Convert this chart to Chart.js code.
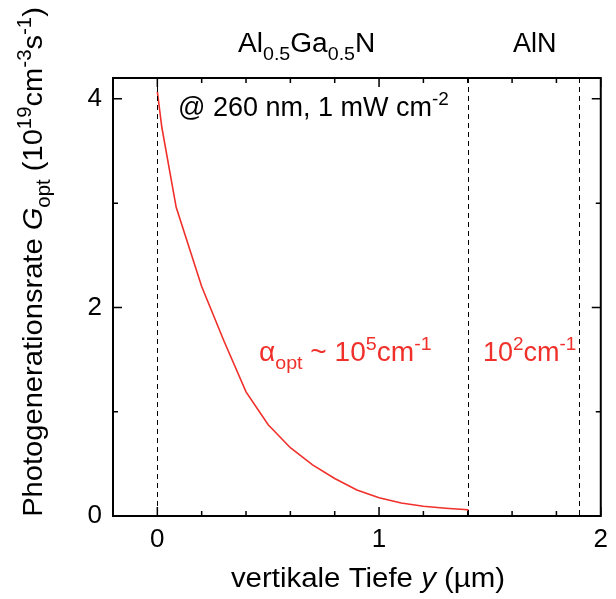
<!DOCTYPE html>
<html>
<head>
<meta charset="utf-8">
<script src="https://cdn.jsdelivr.net/npm/chart.js@4.4.1/dist/chart.umd.min.js"></script>
<style>
  html, body { margin: 0; padding: 0; background: #fff; }
  #wrap { width: 616px; height: 599px; }
</style>
</head>
<body>
<div id="wrap"><canvas id="c" width="616" height="599"></canvas></div>
<script>
// depth (µm) and generation rate (1e19 cm^-3 s^-1)
const depth = [0, 0.02, 0.085, 0.2, 0.3, 0.4, 0.5, 0.6, 0.7, 0.8, 0.9, 1.0, 1.1, 1.2, 1.3, 1.4, 1.4, 1.9];
const rate = [4.07, 3.73, 2.96, 2.2, 1.68, 1.19, 0.875, 0.655, 0.49, 0.36, 0.25, 0.175, 0.124, 0.093, 0.075, 0.061, 0, 0];
const boundaries = [0, 1.4, 1.9]; // layer interfaces (dashed)
const xTicks = [0, 1, 2];
const xMinor = [0.2, 0.4, 0.6, 0.8, 1.2, 1.4, 1.6, 1.8];
const yTicks = [0, 2, 4];
const yMinor = [1, 3];

const RED = "#f0302a";
const FONT = "'Liberation Sans', Arial, sans-serif";

// text made of pieces: {t, s: 'sub'|'sup', i: italic}
function richWidth(ctx, parts, size) {
  let w = 0;
  parts.forEach((p) => {
    const fs = p.s ? size * 0.7 : size;
    ctx.font = (p.i ? "italic " : "") + fs + "px " + FONT;
    w += ctx.measureText(p.t).width;
  });
  return w;
}
// draws at (x,y); sx stretches along the text direction
function drawRich(ctx, parts, x, y, size, color, sx = 1, center = false) {
  ctx.save();
  ctx.translate(x, y);
  ctx.scale(sx, 1);
  let cx = center ? -richWidth(ctx, parts, size) / 2 : 0;
  ctx.fillStyle = color;
  ctx.textBaseline = "alphabetic";
  ctx.textAlign = "left";
  parts.forEach((p) => {
    let fs = size, dy = 0;
    if (p.s === "sub") { fs = size * 0.7; dy = size * 0.3; }
    if (p.s === "sup") { fs = size * 0.7; dy = -size * 0.4; }
    ctx.font = (p.i ? "italic " : "") + fs + "px " + FONT;
    ctx.fillText(p.t, cx, dy);
    cx += ctx.measureText(p.t).width;
  });
  ctx.restore();
}

const decor = {
  id: "decor",
  afterDatasetsDraw(chart) {
    const ctx = chart.ctx;
    const a = chart.chartArea;
    const xs = chart.scales.x, ys = chart.scales.y;
    ctx.save();
    // dashed interfaces
    ctx.strokeStyle = "#000";
    ctx.lineWidth = 1;
    ctx.setLineDash([5, 4]);
    boundaries.forEach((b) => {
      const px = Math.round(xs.getPixelForValue(b)) + 0.5;
      ctx.beginPath();
      ctx.moveTo(px, a.top);
      ctx.lineTo(px, a.bottom);
      ctx.stroke();
    });
    ctx.setLineDash([]);
    // inward ticks on all sides
    ctx.lineWidth = 1.5;
    const tick = (vals, len) => {
      vals.forEach((v) => {
        const px = xs.getPixelForValue(v);
        ctx.beginPath();
        ctx.moveTo(px, a.bottom); ctx.lineTo(px, a.bottom - len);
        ctx.moveTo(px, a.top); ctx.lineTo(px, a.top + len);
        ctx.stroke();
      });
    };
    tick(xTicks, 9);
    tick(xMinor, 5);
    const ytick = (vals, len) => {
      vals.forEach((v) => {
        const py = ys.getPixelForValue(v);
        ctx.beginPath();
        ctx.moveTo(a.left, py); ctx.lineTo(a.left + len, py);
        ctx.moveTo(a.right, py); ctx.lineTo(a.right - len, py);
        ctx.stroke();
      });
    };
    ytick(yTicks, 9);
    ytick(yMinor, 5);
    // frame
    ctx.lineWidth = 2;
    ctx.strokeRect(a.left, a.top, a.right - a.left, a.bottom - a.top);

    // labels
    drawRich(ctx, [{ t: "@ 260 nm, 1 mW cm" }, { t: "-2", s: "sup" }], 178, 116, 27, "#000");
    drawRich(ctx, [{ t: "Al" }, { t: "0.5", s: "sub" }, { t: "Ga" }, { t: "0.5", s: "sub" }, { t: "N" }], 238, 52, 27, "#000", 1.04);
    drawRich(ctx, [{ t: "AlN" }], 513, 52, 27, "#000");
    drawRich(ctx, [{ t: "\u03b1" }, { t: "opt", s: "sub" }, { t: " ~ 10" }, { t: "5", s: "sup" }, { t: "cm" }, { t: "-1", s: "sup" }], 259, 361, 27, RED, 1.04);
    drawRich(ctx, [{ t: "10" }, { t: "2", s: "sup" }, { t: "cm" }, { t: "-1", s: "sup" }], 483, 361, 27, RED);

    // x title
    drawRich(ctx, [{ t: "vertikale Tiefe " }, { t: "y", i: true }, { t: " (\u00b5m)" }], 368, 587, 27, "#000", 1.09, true);

    // y title (rotated)
    ctx.translate(42, 262);
    ctx.rotate(-Math.PI / 2);
    drawRich(ctx, [{ t: "Photogenerationsrate " }, { t: "G", i: true }, { t: "opt", s: "sub" },
      { t: " (10" }, { t: "19", s: "sup" }, { t: "cm" }, { t: "-3", s: "sup" }, { t: "s" }, { t: "-1", s: "sup" }, { t: ")" }],
      0, 0, 28, "#000", 1.04, true);
    ctx.restore();
  },
};

const points = depth.map((d, i) => ({ x: d, y: rate[i] }));

new Chart(document.getElementById("c"), {
  type: "scatter",
  data: {
    datasets: [
      {
        data: points,
        showLine: true,
        borderColor: RED,
        borderWidth: 1.6,
        pointRadius: 0,
        tension: 0,
      },
    ],
  },
  options: {
    responsive: false,
    animation: false,
    layout: { padding: { left: 0, right: 4, top: 78, bottom: 0 } },
    plugins: { legend: { display: false }, tooltip: { enabled: false } },
    scales: {
      x: {
        type: "linear",
        min: -0.2,
        max: 2,
        afterBuildTicks: (s) => { s.ticks = xTicks.map((v) => ({ value: v })); },
        afterFit: (s) => { s.height = 83; },
        grid: { display: false, drawTicks: false },
        border: { display: false },
        ticks: { padding: 8, color: "#000", font: { family: FONT, size: 26 }, maxRotation: 0 },
      },
      y: {
        type: "linear",
        min: 0,
        max: 4.2,
        afterBuildTicks: (s) => { s.ticks = yTicks.map((v) => ({ value: v })); },
        afterFit: (s) => { s.width = 113; },
        grid: { display: false, drawTicks: false },
        border: { display: false },
        ticks: { padding: 11, color: "#000", font: { family: FONT, size: 26 } },
      },
    },
  },
  plugins: [decor],
});
</script>
</body>
</html>
